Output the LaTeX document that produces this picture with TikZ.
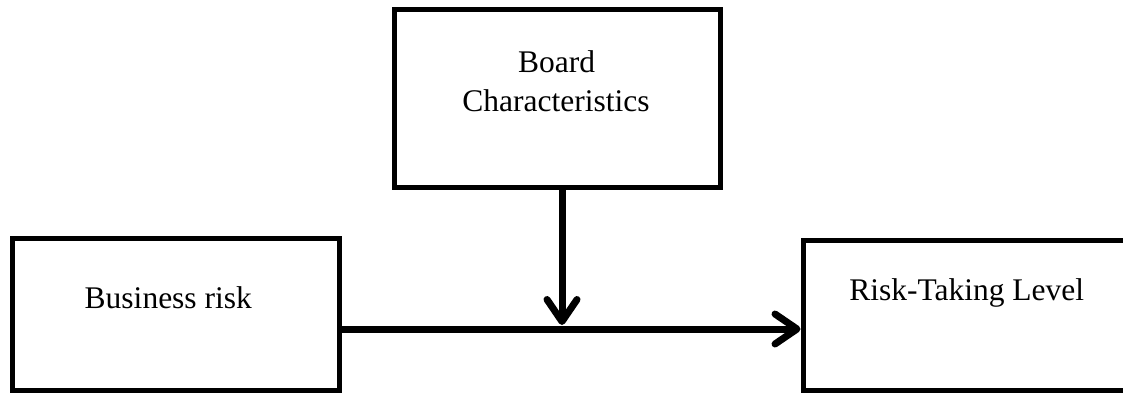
\documentclass[tikz,border=0pt]{standalone}
\usepackage{fontspec}
\setmainfont{Liberation Serif}
\usetikzlibrary{arrows.meta}
\tikzset{
  box/.style={draw=black, line width=5pt, inner sep=0pt, fill=none},
  txt/.style={anchor=base, inner sep=0pt, font=\fontsize{31.5}{38}\selectfont},
  conn/.style={line width=7pt, -{Straight Barb[length=22pt,width=30pt,round]}}
}
\begin{document}
\begin{tikzpicture}[x=1pt,y=-1pt]
\useasboundingbox (0,0) rectangle (1123,394);
\clip (0,0) rectangle (1123,394);
\fill[white] (0,0) rectangle (1123,394);
% boxes
\node[box, minimum width=326pt, minimum height=178.5pt] (board) at (557.5,98.25) {};
\node[box, minimum width=327pt, minimum height=152pt] (biz) at (175.5,314) {};
\node[box, minimum width=347pt, minimum height=150pt] (risk) at (976.5,315) {};
% texts
\node[txt] (boardA) at (556.5,72) {Board};
\node[txt] (boardB) at (556,111.7) {Characteristics};
\node[txt] (biztext) at (168.3,308.3) {Business risk};
\node[txt] (risktext) at (966.7,300) {Risk-Taking Level};
% connectors
\coordinate (j) at (562,329);
\coordinate (vtip) at (562,325);
\draw[conn] (biz.east |- j) -- (risk.west |- j);
\draw[conn] (vtip |- board.south) -- (vtip);
\end{tikzpicture}
\end{document}
